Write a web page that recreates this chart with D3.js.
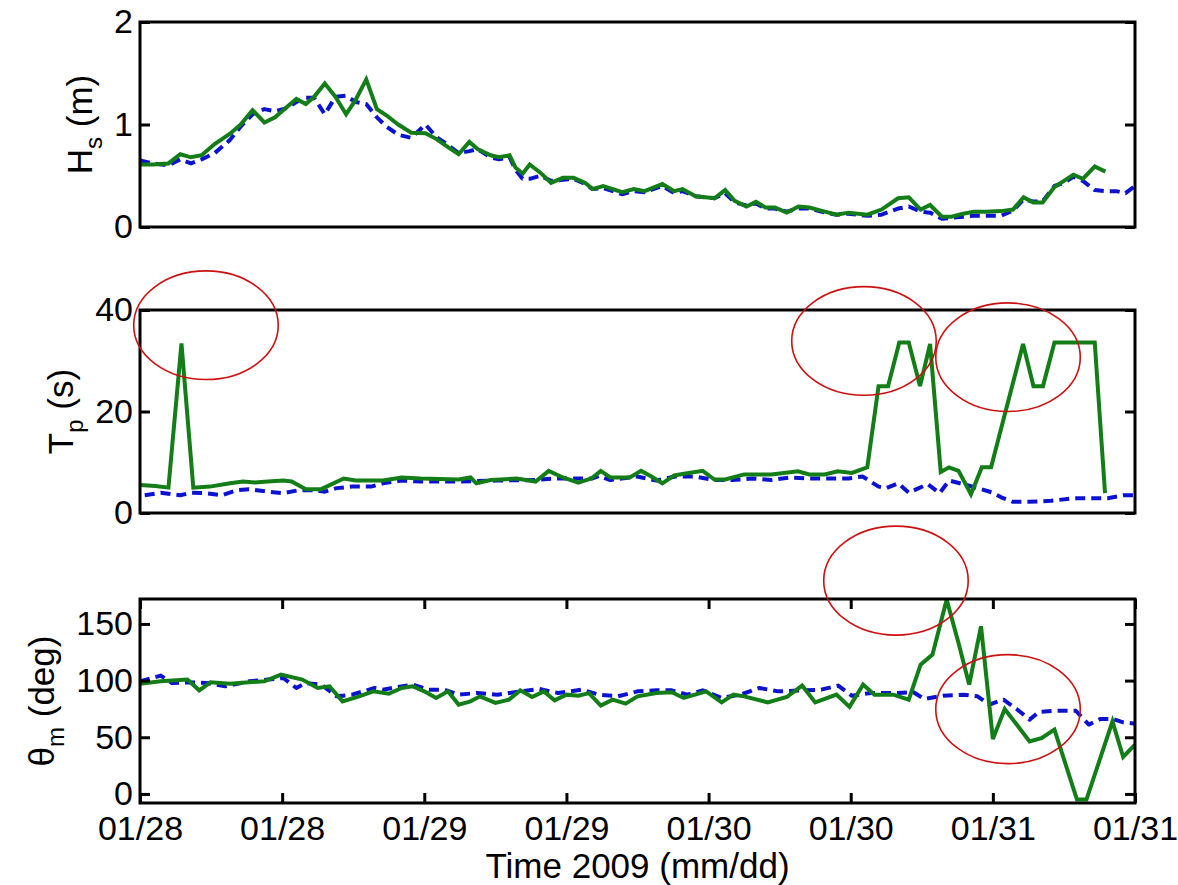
<!DOCTYPE html>
<html>
<head>
<meta charset="utf-8">
<script src="https://cdn.jsdelivr.net/npm/d3@7"></script>
<style>
  body { margin: 0; background: #fff; }
  svg { display: block; }
  text { font-family: "Liberation Sans", Arial, Helvetica, sans-serif; fill: #000; }
</style>
</head>
<body>
<svg id="chart" width="1178" height="885"></svg>
<script>
// ---------- DATA (time in hours from start of record) ----------
const xTickHours  = [0, 12, 24, 36, 48, 60, 72, 84];
const xTickLabels = ["01/28", "01/28", "01/29", "01/29", "01/30", "01/30", "01/31", "01/31"];
const xDomain = [0, 84];

const hsTicks = [0, 1, 2];
const tpTicks = [0, 20, 40];
const thTicks = [0, 50, 100, 150];
const hsDomain = [0, 2];
const tpDomain = [0, 40];
const thDomain = [-8, 172];

// Significant wave height (m)
const hsSolid = [[0,0.61],[1.1,0.61],[2.4,0.62],[3.4,0.71],[4.3,0.68],[5.2,0.70],[6.3,0.81],[7.6,0.91],[8.5,1.0],[9.5,1.14],[10.5,1.02],[11.4,1.07],[12.4,1.17],[13.2,1.25],[14.0,1.20],[14.7,1.27],[15.6,1.40],[16.5,1.27],[17.4,1.10],[18.2,1.24],[19.1,1.44],[20.0,1.15],[20.8,1.09],[21.8,1.0],[22.9,0.92],[24.1,0.915],[25.0,0.86],[26.0,0.78],[26.9,0.71],[27.8,0.83],[28.5,0.76],[29.6,0.70],[30.3,0.68],[31.2,0.70],[31.7,0.58],[32.3,0.52],[32.9,0.61],[33.8,0.53],[34.7,0.43],[35.7,0.48],[36.6,0.48],[37.6,0.43],[38.2,0.37],[39.1,0.40],[40.7,0.34],[41.7,0.37],[42.6,0.35],[44.1,0.42],[45.1,0.35],[45.8,0.37],[46.9,0.30],[48.5,0.28],[49.4,0.36],[50.2,0.255],[51.2,0.20],[52.0,0.245],[52.8,0.19],[53.6,0.19],[54.6,0.14],[55.6,0.20],[56.5,0.19],[57.5,0.16],[58.8,0.12],[59.8,0.14],[61.4,0.12],[62.6,0.17],[64.0,0.28],[64.9,0.29],[65.9,0.17],[66.7,0.215],[67.7,0.10],[68.5,0.10],[69.5,0.13],[70.4,0.15],[71.4,0.15],[72.7,0.155],[73.7,0.17],[74.6,0.29],[75.4,0.24],[76.2,0.24],[77.2,0.39],[78.0,0.45],[78.8,0.51],[79.6,0.47],[80.6,0.59],[81.5,0.54]];
const hsDashed = [[0,0.65],[1.1,0.62],[2.4,0.60],[3.4,0.66],[4.3,0.62],[5.2,0.66],[6.3,0.72],[7.6,0.85],[8.5,0.98],[9.5,1.10],[10.5,1.15],[11.4,1.13],[12.4,1.16],[13.2,1.22],[14.0,1.26],[14.7,1.26],[15.6,1.10],[16.5,1.27],[17.4,1.28],[18.2,1.22],[19.1,1.20],[20.0,1.07],[20.8,0.98],[21.8,0.90],[22.9,0.87],[24.1,1.0],[25.0,0.88],[26.0,0.80],[26.9,0.72],[27.8,0.74],[28.5,0.76],[29.6,0.68],[30.3,0.66],[31.2,0.68],[31.7,0.56],[32.3,0.47],[32.9,0.47],[33.8,0.50],[34.7,0.45],[35.7,0.46],[36.6,0.47],[37.6,0.42],[38.2,0.37],[39.1,0.38],[40.7,0.32],[41.7,0.35],[42.6,0.34],[44.1,0.40],[45.1,0.33],[45.8,0.35],[46.9,0.30],[48.5,0.28],[49.4,0.33],[50.2,0.24],[51.2,0.21],[52.0,0.23],[52.8,0.18],[53.6,0.18],[54.6,0.15],[55.6,0.18],[56.5,0.18],[57.5,0.15],[58.8,0.12],[59.8,0.13],[61.4,0.11],[62.6,0.12],[64.0,0.18],[64.9,0.20],[65.9,0.15],[66.7,0.14],[67.7,0.08],[68.5,0.09],[69.5,0.10],[70.4,0.11],[71.4,0.11],[72.7,0.11],[73.7,0.16],[74.6,0.27],[75.4,0.25],[76.2,0.25],[77.2,0.40],[78.0,0.43],[78.8,0.49],[79.6,0.45],[80.6,0.36],[81.5,0.35],[82.4,0.35],[83.2,0.33],[84,0.40]];

// Peak period (s)
const tpSolid = [[0,5.5],[1.3,5.3],[2.4,5.0],[3.5,33.4],[4.5,5.0],[5.9,5.2],[7.6,5.85],[8.7,6.2],[9.7,6.0],[10.8,6.2],[12.1,6.4],[12.8,6.2],[14.0,4.7],[15.3,4.7],[17.2,6.8],[18.2,6.4],[20.5,6.4],[22.1,7.0],[23.7,6.8],[26.9,6.6],[27.9,7.0],[28.4,5.85],[29.6,6.5],[31.8,6.8],[33.4,6.2],[34.5,8.3],[35.7,7.0],[37.0,6.0],[38.1,6.8],[38.9,8.3],[39.7,7.0],[41.35,7.0],[42.3,8.3],[43.1,7.3],[44.1,5.85],[45.1,7.4],[45.8,7.7],[47.5,8.3],[48.5,6.6],[49.4,6.6],[51.0,7.6],[52.3,7.6],[53.3,7.6],[55.55,8.2],[56.5,7.6],[57.8,7.6],[58.9,8.2],[60.1,7.9],[61.4,9.0],[62.35,25.0],[63.15,25.0],[64.1,33.6],[64.9,33.6],[65.85,25.0],[66.7,33.3],[67.6,8.1],[68.3,9.0],[69.1,8.3],[70.15,3.7],[71.07,9.0],[71.85,9.0],[74.55,33.3],[75.43,25],[76.23,25],[77.2,33.6],[80.6,33.6],[81.47,3.9]];
const tpDashed = [[0.4,3.5],[1.75,4.0],[3.4,3.5],[4.3,4.0],[5.6,3.9],[6.9,3.5],[8.2,4.5],[9.2,4.7],[10.8,4.2],[12.1,3.9],[13.4,4.5],[14.7,4.5],[15.6,4.2],[16.6,4.9],[17.9,5.2],[19.5,5.2],[20.5,5.85],[22.1,6.4],[23.7,6.2],[26.9,6.2],[30.2,6.4],[33.4,6.5],[35.0,6.8],[38.2,6.8],[38.75,7.3],[39.7,6.5],[41.95,7.2],[43.6,6.4],[45.2,7.2],[46.85,7.2],[48.46,6.5],[50.0,6.5],[51.7,6.8],[53.3,6.5],[54.9,7.0],[56.5,6.8],[58.15,6.8],[59.8,6.8],[61.0,7.2],[62.35,5.2],[63.0,4.9],[64.0,5.85],[64.9,4.0],[66.5,5.7],[67.5,3.9],[68.3,6.4],[69.5,5.7],[70.7,4.9],[72.0,4.0],[72.7,3.1],[73.7,2.2],[74.95,2.2],[76.9,2.4],[78.8,2.9],[80.75,2.9],[81.7,2.9],[83.0,3.5],[84,3.5]];

// Mean wave direction (deg)
const thSolid = [[0,97.3],[1.75,99.4],[4.0,100.9],[5.0,91.4],[5.95,98.5],[7.6,97.3],[9.2,98.5],[10.5,99.4],[11.9,105.3],[13.7,100.9],[15.0,93.5],[16.0,95],[17.1,81.7],[18.5,86.1],[19.7,90.5],[21.0,88.4],[22.1,93.5],[23.0,95],[24.0,90.5],[25.0,84.7],[26.0,90.5],[26.9,78.8],[27.9,81.7],[28.7,86.1],[30.0,80.3],[31.15,83.2],[32.1,91.4],[33.1,85.5],[34.1,90.5],[35.0,82.6],[36.0,87.6],[37.0,86.6],[37.9,88.9],[38.9,77.9],[39.9,83.2],[41.0,79.7],[42.0,86.1],[43.6,89.1],[44.9,89.7],[45.9,84.7],[47.8,90.5],[49.1,80.8],[50.1,87.6],[51.0,86.1],[53.0,80.8],[54.6,85.5],[55.9,95.6],[57.0,80.8],[58.8,87.6],[59.9,76.8],[61.05,96.5],[62.0,87.6],[63.6,87.6],[64.9,83.2],[65.9,114.1],[66.9,122.9],[68.1,171.4],[69.1,133.2],[70.0,96.5],[71.0,147.9],[72.0,48.5],[73.0,75],[75.1,46.4],[76.1,49.3],[77.2,56.7],[79.1,-5],[79.9,-5],[82.1,64],[83.0,32.6],[84,43.5]];
const thDashed = [[0,99.4],[1.75,104.4],[2.7,97.9],[4.0,98.5],[5.6,97.9],[7.2,95],[9.2,99.4],[10.8,100.9],[12.1,102.3],[13.2,93.5],[14.0,97.9],[15.3,96.5],[16.6,86.1],[17.9,87.6],[19.8,93.5],[20.5,92],[23.0,96.5],[24.4,92],[25.7,92],[26.9,87.6],[28.5,89.1],[30.2,87.6],[32.1,90.5],[33.7,92.6],[35.3,89.1],[37.3,92],[38.75,87.6],[40.35,86.1],[42.0,90.5],[43.6,91.4],[44.9,91.4],[46.2,87.6],[47.5,91.4],[49.1,84.7],[50.7,87.6],[52.3,93.5],[53.9,90.5],[55.9,91.4],[57.5,92],[58.95,95.6],[60.1,86.6],[61.7,89.1],[64.0,89.1],[65.3,89.7],[66.2,83.8],[67.8,86.6],[69.5,87.6],[70.7,86.1],[71.7,78.8],[72.9,83.2],[74.0,75],[75.1,65.6],[75.9,72.5],[77.5,73.4],[79.0,73.4],[80.1,61.2],[81.1,66.2],[82.1,66.2],[83.0,63.2],[84,62]];

// Highlight ellipses (centre in data units of their panel, radii in hours / panel units)
const highlights = [
  { panel: 1, t: 5.57,  v: 37.0,  rt: 6.1, rv: 10.7 },
  { panel: 1, t: 61.12, v: 33.9,  rt: 6.1, rv: 10.7 },
  { panel: 1, t: 73.28, v: 30.7,  rt: 6.1, rv: 10.7 },
  { panel: 2, t: 63.82, v: 188.2, rt: 6.1, rv: 48.1 },
  { panel: 2, t: 73.28, v: 74.8,  rt: 6.1, rv: 48.1 }
];

// ---------- LAYOUT ----------
const W = 1178, H = 885;
const left = 140, right = 1135;
const panels = [
  { top: 22,  bottom: 227, domain: hsDomain, ticks: hsTicks, solid: hsSolid, dashed: hsDashed, label: ["H", "s", " (m)"], xticks: false },
  { top: 310, bottom: 513, domain: tpDomain, ticks: tpTicks, solid: tpSolid, dashed: tpDashed, label: ["T", "p", " (s)"], xticks: false },
  { top: 599, bottom: 803, domain: thDomain, ticks: thTicks, solid: thSolid, dashed: thDashed, label: ["\u03b8", "m", " (deg)"], xticks: true }
];
const GREEN = "#137d17", BLUE = "#0c12d2", RED = "#cc1010";
const FS = 34;

const svg = d3.select("#chart");
svg.append("rect").attr("width", W).attr("height", H).attr("fill", "#fff");

const x = d3.scaleLinear().domain(xDomain).range([left, right]);
const defs = svg.append("defs");
const yScales = [];

panels.forEach((p, i) => {
  const y = d3.scaleLinear().domain(p.domain).range([p.bottom, p.top]);
  yScales.push(y);
  const g = svg.append("g");

  defs.append("clipPath").attr("id", "clip" + i)
    .append("rect").attr("x", left).attr("y", p.top).attr("width", right - left).attr("height", p.bottom - p.top);

  const line = d3.line().x(d => x(d[0])).y(d => y(d[1]));
  const plot = g.append("g").attr("clip-path", `url(#clip${i})`);
  plot.append("path").datum(p.dashed).attr("d", line)
    .attr("fill", "none").attr("stroke", BLUE).attr("stroke-width", 4)
    .attr("stroke-dasharray", "10,6").attr("stroke-linejoin", "round");
  plot.append("path").datum(p.solid).attr("d", line)
    .attr("fill", "none").attr("stroke", GREEN).attr("stroke-width", 4)
    .attr("stroke-linejoin", "miter");

  // Axes
  const yl = g.append("g").attr("transform", `translate(${left},0)`)
    .call(d3.axisLeft(y).tickValues(p.ticks).tickSize(-10).tickSizeOuter(0).tickPadding(7).tickFormat(d3.format("d")));
  const yr = g.append("g").attr("transform", `translate(${right},0)`)
    .call(d3.axisRight(y).tickValues(p.ticks).tickSize(-10).tickSizeOuter(0).tickFormat(""));
  [yl, yr].forEach(a => {
    a.select(".domain").remove();
    a.selectAll(".tick line").attr("stroke", "#000").attr("stroke-width", 3);
  });
  yl.selectAll(".tick text").attr("font-size", FS).attr("fill", "#000")
    .attr("font-family", '"Liberation Sans", Arial, sans-serif');

  if (p.xticks) {
    const xb = g.append("g").attr("transform", `translate(0,${p.bottom})`)
      .call(d3.axisBottom(x).tickValues(xTickHours).tickSize(-10).tickSizeOuter(0).tickPadding(13)
        .tickFormat((d, k) => xTickLabels[k]));
    const xt = g.append("g").attr("transform", `translate(0,${p.top})`)
      .call(d3.axisTop(x).tickValues(xTickHours).tickSize(-10).tickSizeOuter(0).tickFormat(""));
    [xb, xt].forEach(a => {
      a.select(".domain").remove();
      a.selectAll(".tick line").attr("stroke", "#000").attr("stroke-width", 3);
    });
    xb.selectAll(".tick text").attr("font-size", FS).attr("fill", "#000")
      .attr("font-family", '"Liberation Sans", Arial, sans-serif');
  }

  // Box
  g.append("rect").attr("x", left).attr("y", p.top).attr("width", right - left).attr("height", p.bottom - p.top)
    .attr("fill", "none").attr("stroke", "#000").attr("stroke-width", 3);

  // Y label
  const bb = yl.node().getBBox();
  const lx = bb.x + left - 22;
  const cy = (p.top + p.bottom) / 2;
  const t = g.append("text").attr("transform", `translate(${lx},${cy}) rotate(-90)`)
    .attr("text-anchor", "middle").attr("font-size", 35);
  t.append("tspan").text(p.label[0]);
  t.append("tspan").attr("dy", 10).attr("font-size", 24).text(p.label[1]);
  t.append("tspan").attr("dy", -10).text(p.label[2]);
});

// X label
svg.append("text").attr("x", (left + right) / 2).attr("y", 878)
  .attr("text-anchor", "middle").attr("font-size", 35).text("Time 2009 (mm/dd)");

// Highlight ellipses
highlights.forEach(h => {
  const y = yScales[h.panel];
  const cx = x(h.t), cy = y(h.v);
  svg.append("ellipse").attr("cx", cx).attr("cy", cy)
    .attr("rx", x(h.t + h.rt) - cx).attr("ry", Math.abs(y(h.v) - y(h.v + h.rv)))
    .attr("fill", "none").attr("stroke", RED).attr("stroke-width", 1.6);
});
</script>
</body>
</html>
